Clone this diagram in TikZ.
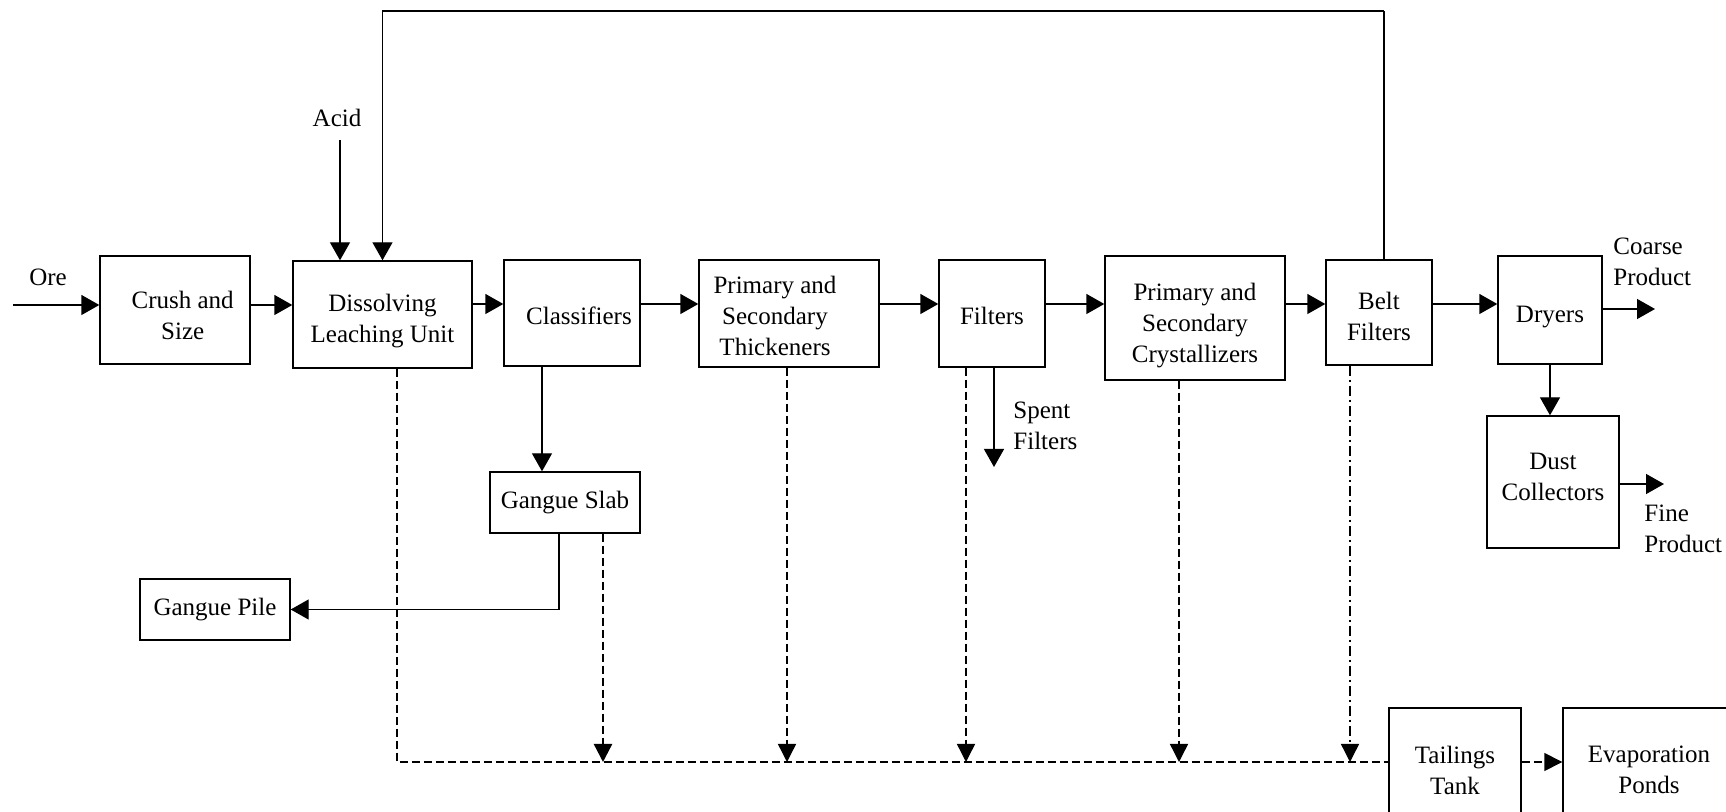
\documentclass[tikz,border=0pt]{standalone}
\usepackage{fontspec}
\setmainfont{Liberation Serif}
\usetikzlibrary{arrows.meta,calc}
\begin{document}
\begin{tikzpicture}[x=0.5pt,y=-0.5pt,
  font=\fontsize{12.5pt}{15.5pt}\selectfont,
  box/.style={draw, line width=0.7pt, align=center, inner sep=0pt},
  arr/.style={line width=0.7pt, -{Triangle[length=9pt,width=10pt]}},
  flow/.style={line width=0.7pt},
  dsh/.style={line width=0.7pt, dash pattern=on 4pt off 2pt},
  dsharr/.style={dsh, -{Triangle[length=9pt,width=9pt]}},
  dshthick/.style={line width=1.2pt, dash pattern=on 4pt off 2pt, -{Triangle[length=9pt,width=9pt]}},
  dashdotarr/.style={line width=0.7pt, dash pattern=on 5pt off 2pt on 1pt off 2pt, -{Triangle[length=9pt,width=9pt]}},
  lbl/.style={inner sep=0pt, align=left}
]
\useasboundingbox (0,0) rectangle (1726,812);

% boxes
\node[box, minimum width=75pt, minimum height=54pt] (crush) at (175,310) {\kern7.7pt\rule{0pt}{14pt}Crush and\\\kern7.7pt Size};
\node[box, minimum width=89.5pt, minimum height=53.5pt] (dissolve) at (382.5,314.5) {\rule{0pt}{15.1pt}Dissolving\\Leaching Unit};
\node[box, minimum width=68pt, minimum height=53pt] (classif) at (572,313) {\kern7pt\rule{0pt}{11.8pt}Classifiers};
\node[box, minimum width=90pt, minimum height=53.5pt] (thick) at (789,313.5) {\rule{0pt}{10.7pt}Primary and\kern14pt\\Secondary\kern14pt\\Thickeners\kern14pt};
\node[box, minimum width=53pt, minimum height=53.5pt] (filters) at (992,313.5) {\rule{0pt}{10.7pt}Filters};
\node[box, minimum width=90pt, minimum height=62pt] (cryst) at (1195,318) {\rule{0pt}{16.2pt}Primary and\\Secondary\\Crystallizers};
\node[box, minimum width=53pt, minimum height=52.5pt] (belt) at (1379,312.5) {\rule{0pt}{12.9pt}Belt\\Filters};
\node[box, minimum width=52pt, minimum height=54pt] (dryers) at (1550,310) {\rule{0pt}{14.9pt}Dryers};
\node[box, minimum width=66pt, minimum height=66pt] (dust) at (1553,482) {Dust\\Collectors\rule[-5.6pt]{0pt}{0pt}};
\node[box, minimum width=75pt, minimum height=30.5pt] (slab) at (565,502.5) {Gangue Slab};
\node[box, minimum width=75pt, minimum height=30.5pt] (pile) at (215,609.5) {Gangue Pile};
\node[box, minimum width=66pt, minimum height=62pt] (tank) at (1455,770) {Tailings\\Tank};
\node[box, minimum width=86pt, minimum height=62pt] (evap) at (1649,770) {Evaporation\\Ponds};

% labels
\node[lbl] (ore) at (48,277) {Ore};
\node[lbl] (acid) at (337,118) {Acid};
\node[lbl, anchor=west] (coarse) at (1613,262) {Coarse\\Product};
\node[lbl, anchor=west] (fine) at (1644,529) {Fine\\Product};
\node[lbl, anchor=west] (spent) at (1013,426) {Spent\\Filters};

% helper coordinates
\coordinate (main) at (0,304);
\coordinate (orein) at (13,305);
\coordinate (acidtop) at (340,140);
\coordinate (fbtop) at (0,11);
\coordinate (bus) at (0,762);
\coordinate (coarseend) at (1655,309);
\coordinate (fineend) at (1664,484);
\coordinate (spentend) at (994,467);

% main flow
\draw[arr] (orein) -- (orein -| crush.west);
\draw[arr] (crush.east |- orein) -- (dissolve.west |- orein);
\draw[arr] (dissolve.east |- main) -- (classif.west |- main);
\draw[arr] (classif.east |- main) -- (thick.west |- main);
\draw[arr] (thick.east |- main) -- (filters.west |- main);
\draw[arr] (filters.east |- main) -- (cryst.west |- main);
\draw[arr] (cryst.east |- main) -- (belt.west |- main);
\draw[arr] (belt.east |- main) -- (dryers.west |- main);
\draw[arr] (dryers.east |- coarseend) -- (coarseend);
\draw[arr] (dryers.south) -- (dryers.south |- dust.north);
\draw[arr] (dust.east |- fineend) -- (fineend);

% acid and recycle
\draw[arr] (acidtop) -- (acidtop |- dissolve.north);
\draw[flow] ($(belt.north)+(5,0)$) coordinate (b1) -- (b1 |- fbtop) coordinate (b2);
\draw[arr] (b2) -- (dissolve.north |- fbtop) -- (dissolve.north);

% gangue
\draw[arr] ($(classif.south)+(-30,0)$) coordinate (c1) -- (c1 |- slab.north);
\draw[arr] ($(slab.south)+(-6,0)$) coordinate (s1) |- (pile.east);

% spent filters
\draw[arr] (filters.south -| spentend) -- (spentend);

% tailings bus
\draw[dsh] ($(dissolve.south)+(14.5,0)$) coordinate (d1) -- (d1 |- bus) -- (tank.west |- bus);
\draw[dshthick] ($(slab.south)+(38,0)$) coordinate (s2) -- (s2 |- bus);
\draw[dsharr] ($(thick.south)+(-2,0)$) coordinate (t1) -- (t1 |- bus);
\draw[dsharr] ($(filters.south)+(-26,0)$) coordinate (f1) -- (f1 |- bus);
\draw[dsharr] ($(cryst.south)+(-16,0)$) coordinate (k1) -- (k1 |- bus);
\draw[dashdotarr] ($(belt.south)+(-29,0)$) coordinate (e1) -- (e1 |- bus);
\draw[dsharr] (tank.east |- bus) -- (evap.west |- bus);
\end{tikzpicture}
\end{document}
